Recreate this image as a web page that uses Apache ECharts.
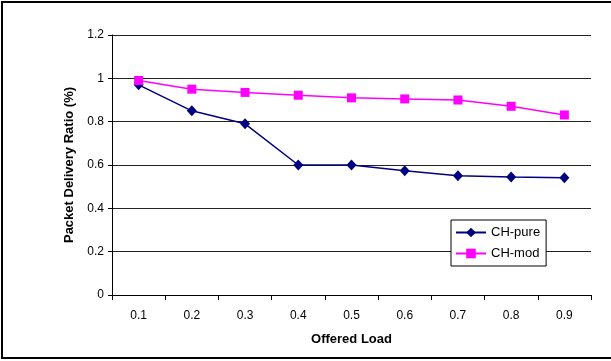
<!DOCTYPE html>
<html>
<head>
<meta charset="utf-8">
<script src="https://cdn.jsdelivr.net/npm/echarts@6/dist/echarts.min.js"></script>
<style>
  html, body { margin: 0; padding: 0; background: #fff; }
  #chart { width: 611px; height: 361px; }
</style>
</head>
<body>
<div id="chart"></div>
<script>
// Offered load categories and delivery ratios per routing variant
const loads = ['0.1', '0.2', '0.3', '0.4', '0.5', '0.6', '0.7', '0.8', '0.9'];
const chPure = [0.97, 0.85, 0.79, 0.60, 0.60, 0.573, 0.55, 0.545, 0.541];
const chMod = [0.99, 0.95, 0.935, 0.922, 0.91, 0.905, 0.90, 0.871, 0.831];
const yTicks = { min: 0, max: 1.2, step: 0.2 };

const font = 'Arial, "Liberation Sans", sans-serif';
const chart = echarts.init(document.getElementById('chart'), null, { renderer: 'canvas' });

chart.setOption({
  animation: false,
  backgroundColor: '#ffffff',
  textStyle: { fontFamily: font },
  grid: { left: 112, right: 20, top: 35, bottom: 66, containLabel: false },
  graphic: [{
    type: 'rect',
    shape: { x: 2, y: 2, width: 612, height: 356 },
    style: { fill: 'none', stroke: '#000', lineWidth: 2 },
    silent: true
  }],
  legend: {
    orient: 'vertical',
    left: 451,
    top: 220,
    padding: [6, 6, 6, 4],
    itemGap: 8,
    itemWidth: 30,
    itemHeight: 12,
    backgroundColor: '#fff',
    borderColor: '#000',
    borderWidth: 1,
    borderRadius: 0,
    textStyle: { fontFamily: font, fontSize: 13, color: '#000' },
    data: ['CH-pure', 'CH-mod']
  },
  xAxis: {
    type: 'category',
    data: loads,
    boundaryGap: true,
    name: 'Offered Load',
    nameLocation: 'middle',
    nameGap: 38,
    nameTextStyle: { fontFamily: font, fontSize: 13, fontWeight: 'bold', color: '#000' },
    axisLine: { lineStyle: { color: '#000', width: 1 } },
    axisTick: { show: true, alignWithLabel: false, length: 5, lineStyle: { color: '#000' } },
    axisLabel: { margin: 15, fontFamily: font, fontSize: 12, color: '#000' },
    splitLine: { show: false }
  },
  yAxis: {
    type: 'value',
    min: yTicks.min,
    max: yTicks.max,
    interval: yTicks.step,
    name: 'Packet Delivery Ratio (%)',
    nameLocation: 'middle',
    nameRotate: 90,
    nameGap: 34,
    nameTextStyle: { fontFamily: font, fontSize: 13, fontWeight: 'bold', color: '#000' },
    axisLine: { show: true, lineStyle: { color: '#000', width: 1 } },
    axisTick: { show: true, length: 4, lineStyle: { color: '#000' } },
    axisLabel: { margin: 8, fontFamily: font, fontSize: 12, color: '#000' },
    splitLine: { show: true, lineStyle: { color: '#222', width: 1 } }
  },
  series: [
    {
      name: 'CH-pure',
      type: 'line',
      data: chPure,
      symbol: 'diamond',
      symbolSize: [10, 11],
      showAllSymbol: true,
      itemStyle: { color: '#000080' },
      lineStyle: { color: '#000080', width: 1.5 },
      z: 3
    },
    {
      name: 'CH-mod',
      type: 'line',
      data: chMod,
      symbol: 'rect',
      symbolSize: 9,
      showAllSymbol: true,
      itemStyle: { color: '#ff00ff' },
      lineStyle: { color: '#ff00ff', width: 1.5 },
      z: 4
    }
  ]
});
</script>
</body>
</html>
